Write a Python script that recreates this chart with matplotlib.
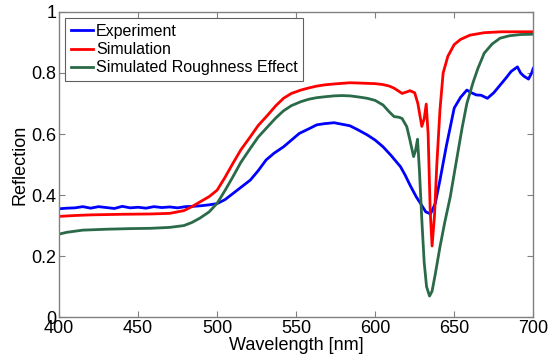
import numpy as np
import matplotlib.pyplot as plt

plt.rcParams['font.family'] = ['Liberation Sans', 'DejaVu Sans']

# Experiment (measured reflection)
wl_exp = [400, 405, 410, 415, 420, 425, 430, 435, 440, 445, 450, 455, 460, 465,
          470, 475, 480, 485, 490, 495, 500, 505, 510, 515, 521, 526, 531, 536,
          542, 547, 552, 558, 563, 568, 574, 579, 584, 589, 595, 600, 605, 610,
          616, 619, 622, 626, 629, 632, 635, 638, 641, 645, 650, 654, 658, 661,
          664, 667, 671, 675, 679, 683, 686, 690, 692, 694, 697, 699, 700]
r_exp = [0.355, 0.357, 0.358, 0.362, 0.357, 0.362, 0.359, 0.356, 0.363, 0.358,
         0.360, 0.357, 0.362, 0.359, 0.361, 0.358, 0.362, 0.363, 0.365, 0.368,
         0.372, 0.385, 0.405, 0.425, 0.449, 0.480, 0.515, 0.537, 0.558, 0.580,
         0.602, 0.617, 0.630, 0.634, 0.637, 0.632, 0.627, 0.614, 0.597, 0.580,
         0.558, 0.530, 0.493, 0.465, 0.433, 0.394, 0.370, 0.345, 0.338, 0.372,
         0.449, 0.560, 0.685, 0.720, 0.744, 0.735, 0.728, 0.727, 0.717, 0.735,
         0.760, 0.785, 0.805, 0.820, 0.800, 0.790, 0.780, 0.800, 0.815]

# Simulation
wl_sim = [400, 410, 420, 440, 458, 470, 479, 484, 489, 495, 500, 505, 510, 515,
          521, 526, 532, 537, 542, 547, 553, 558, 563, 568, 574, 579, 584, 590,
          595, 600, 605, 609, 612, 615, 617, 620, 622, 625, 627, 629.5, 631,
          632.3, 633.5, 634.8, 636, 637.5, 639, 641, 643, 646, 650, 654, 660,
          669, 680, 690, 700]
r_sim = [0.330, 0.333, 0.335, 0.337, 0.338, 0.340, 0.349, 0.362, 0.377, 0.395,
         0.416, 0.458, 0.504, 0.548, 0.591, 0.628, 0.662, 0.692, 0.717, 0.733,
         0.744, 0.751, 0.757, 0.761, 0.764, 0.766, 0.768, 0.767, 0.766, 0.765,
         0.762, 0.757, 0.750, 0.740, 0.733, 0.738, 0.742, 0.735, 0.700, 0.625,
         0.650, 0.698, 0.600, 0.350, 0.233, 0.330, 0.500, 0.680, 0.800, 0.855,
         0.893, 0.910, 0.924, 0.932, 0.935, 0.935, 0.935]

# Simulated roughness effect
wl_rough = [400, 405, 415, 430, 445, 458, 470, 479, 484, 489, 495, 500, 505, 510,
            515, 521, 526, 532, 537, 542, 547, 553, 558, 563, 568, 574, 579, 584,
            590, 595, 600, 605, 609, 612, 615, 617, 620, 622, 624.3, 625.5, 626.8,
            628, 629.5, 631, 632.5, 634.4, 636, 638, 641, 644, 647.5, 651, 655,
            658, 662, 665, 669, 674, 679, 685, 692, 700]
r_rough = [0.272, 0.278, 0.285, 0.288, 0.290, 0.291, 0.294, 0.300, 0.310, 0.324,
           0.345, 0.373, 0.415, 0.460, 0.507, 0.553, 0.590, 0.624, 0.652, 0.676,
           0.693, 0.706, 0.714, 0.719, 0.722, 0.725, 0.726, 0.725, 0.721, 0.717,
           0.710, 0.695, 0.672, 0.657, 0.655, 0.651, 0.624, 0.580, 0.526, 0.545,
           0.583, 0.480, 0.320, 0.180, 0.100, 0.069, 0.085, 0.140, 0.230, 0.310,
           0.394, 0.500, 0.620, 0.700, 0.770, 0.815, 0.865, 0.895, 0.914, 0.922,
           0.926, 0.927]

fig = plt.figure(figsize=(5.52, 3.62), dpi=100)
ax = fig.add_axes([0.107, 0.124, 0.859, 0.843])

ax.plot(wl_exp, r_exp, color='#0000ff', lw=2.0, label='Experiment')
ax.plot(wl_sim, r_sim, color='#ff0000', lw=2.0, label='Simulation')
ax.plot(wl_rough, r_rough, color='#2b6a48', lw=2.0, label='Simulated Roughness Effect')

ax.set_xlim(400, 700)
ax.set_ylim(0, 1)
ax.set_xticks([400, 450, 500, 550, 600, 650, 700])
ax.set_yticks([0, 0.2, 0.4, 0.6, 0.8, 1])
ax.set_yticklabels(['0', '0.2', '0.4', '0.6', '0.8', '1'])
ax.tick_params(direction='in', top=True, right=True, length=4, width=0.8,
               color='#808080', labelsize=13, pad=2)
for s in ax.spines.values():
    s.set_color('#808080')
    s.set_linewidth(1.0)

ax.set_xlabel('Wavelength [nm]', fontsize=13, labelpad=0)
ax.set_ylabel('Reflection', fontsize=13, labelpad=2)

leg = ax.legend(loc='upper left', fontsize=11.5, handlelength=1.4, handletextpad=0.15,
                borderpad=0.35, labelspacing=0.2, borderaxespad=0.4,
                fancybox=False, framealpha=1)
leg.get_frame().set_edgecolor('#606060')
leg.get_frame().set_linewidth(0.8)

fig.savefig('out.png', dpi=100)
